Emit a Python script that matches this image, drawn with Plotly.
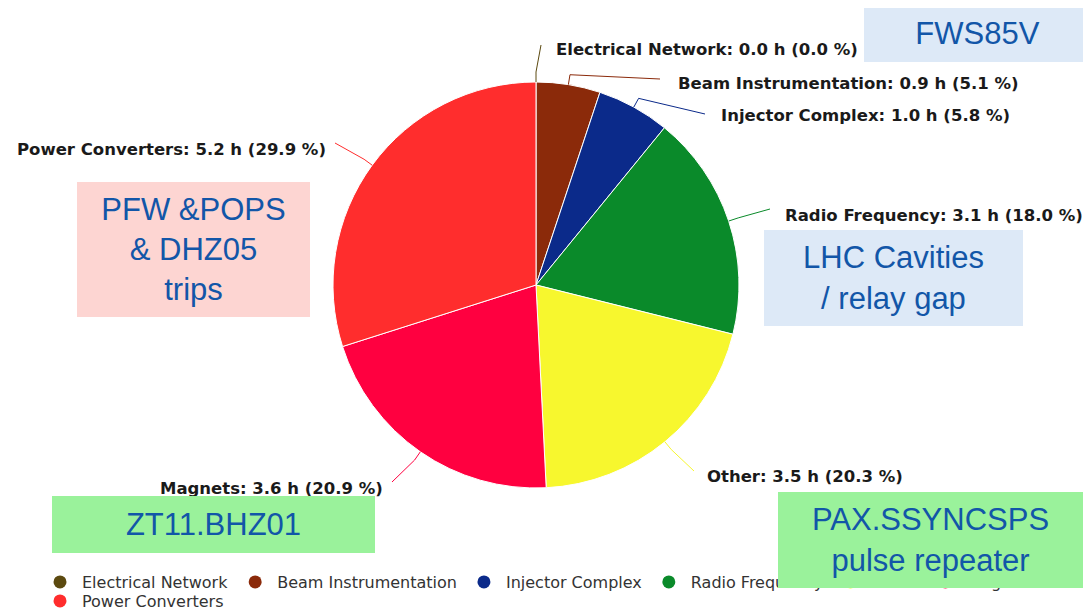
import math
import plotly.graph_objects as go

# ---------------- data ----------------
categories = ["Electrical Network", "Beam Instrumentation", "Injector Complex",
              "Radio Frequency", "Other", "Magnets", "Power Converters"]
hours = [0.0, 0.9, 1.0, 3.1, 3.5, 3.6, 5.2]
percent = [0.0, 5.1, 5.8, 18.0, 20.3, 20.9, 29.9]
legend_row = [1, 1, 1, 1, 1, 1, 2]

# ---------------- styles / layout ----------------
colors = ["#5c4a10", "#8b2a0a", "#0b2a8a", "#0a8a2a", "#f7f72e", "#ff0040", "#ff2d2d"]
OFF = 8                      # page body margin
W, H = 1091 - OFF, 609 - OFF  # figure size
CX, CY, R = 536, 285, 203    # pie centre / radius in page pixels

# label layout: connector end (px), text x (px), text y (px), side
label_layout = [
    (541, 45, 554, 50, "left"),
    (660, 79, 676, 83, "left"),
    (705, 114, 719, 115, "left"),
    (770, 209, 783, 215, "left"),
    (694, 471, 705, 476, "left"),
    (392, 482, 385, 488, "right"),
    (335, 143, 328, 149, "right"),
]

boxes = [
    # x0, y0, x1, y1, bg, text
    (864, 5, 1091, 62, "#dde9f7", "FWS85V"),
    (764, 230, 1023, 326, "#dde9f7", "LHC Cavities<br>/ relay gap"),
    (77, 182, 310, 317, "#fdd5d2", "PFW &POPS<br>& DHZ05<br>trips"),
    (52, 496, 375, 553, "#9af29b", "ZT11.BHZ01"),
    (778, 492, 1083, 588, "#9af29b", "PAX.SSYNCSPS<br>pulse repeater"),
]


def px(x):
    return (x - OFF) / W


def py(y):
    return 1 - (y - OFF) / H


fig = go.Figure()

fig.add_trace(go.Pie(
    labels=categories,
    values=percent,
    customdata=hours,
    sort=False,
    direction="clockwise",
    rotation=0,
    marker=dict(colors=colors, line=dict(color="white", width=1)),
    textinfo="none",
    hoverinfo="label+value",
    showlegend=False,
    domain=dict(x=[px(CX - R), px(CX + R)], y=[py(CY + R), py(CY - R)]),
))

# legend entries with round markers
for name, col, row in zip(categories, colors, legend_row):
    fig.add_trace(go.Scatter(
        x=[None], y=[None], mode="markers", name=name,
        legend="legend" if row == 1 else "legend2",
        marker=dict(color=col, size=13, symbol="circle"),
    ))

shapes = []
annotations = []
total = sum(percent)
cum = 0.0
for i, (name, hv, pv) in enumerate(zip(categories, hours, percent)):
    mid = (cum + pv / 2) / total * 2 * math.pi
    cum += pv
    ax = CX + R * math.sin(mid)
    ay = CY - R * math.cos(mid)
    bx = CX + (R + 10) * math.sin(mid)
    by = CY - (R + 10) * math.cos(mid)
    ex, ey, tx, ty, side = label_layout[i]
    path = "M {} {} L {} {} L {} {}".format(px(ax), py(ay), px(bx), py(by), px(ex), py(ey))
    shapes.append(dict(type="path", xref="paper", yref="paper", path=path,
                       line=dict(color=colors[i], width=1)))
    annotations.append(dict(
        x=px(tx), y=py(ty), xref="paper", yref="paper",
        xanchor=side, yanchor="middle", showarrow=False,
        text="{}: {:.1f} h ({:.1f} %)".format(name, hv, pv),
        font=dict(family="DejaVu Sans", size=16.5, color="#1a1a1a", weight="bold"),
    ))

for (x0, y0, x1, y1, bg, txt) in boxes:
    annotations.append(dict(
        x=px((x0 + x1) / 2), y=py((y0 + y1) / 2), xref="paper", yref="paper",
        xanchor="center", yanchor="middle", showarrow=False,
        width=x1 - x0, height=y1 - y0, bgcolor=bg, borderpad=0, borderwidth=0,
        align="center", valign="middle",
        text=txt,
        font=dict(family="Liberation Sans, Arial, sans-serif", size=31, color="#1256a8"),
    ))

legend_font = dict(family="DejaVu Sans", size=16, color="#333333")
fig.update_layout(
    width=W, height=H,
    margin=dict(l=0, r=0, t=0, b=0, autoexpand=False),
    paper_bgcolor="white", plot_bgcolor="white",
    xaxis=dict(visible=False), yaxis=dict(visible=False),
    shapes=shapes,
    annotations=annotations,
    showlegend=True,
    legend=dict(
        orientation="h", x=30 / W, y=py(565), xanchor="left", yanchor="top",
        font=legend_font, itemwidth=34, tracegroupgap=0, bgcolor="rgba(0,0,0,0)",
    ),
    legend2=dict(
        orientation="h", x=30 / W, y=py(584), xanchor="left", yanchor="top",
        font=legend_font, itemwidth=34, tracegroupgap=0, bgcolor="rgba(0,0,0,0)",
    ),
)

fig.write_html("out.html")
